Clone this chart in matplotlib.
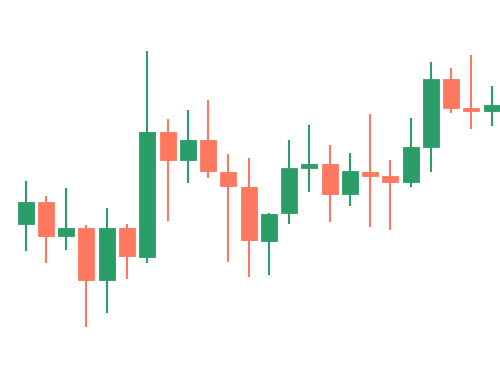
import numpy as np
import matplotlib.pyplot as plt

# OHLC values (arbitrary price units)
opens = [146, 168, 134.3, 142, 90, 142, 112.7, 238, 210, 230.3, 198.3, 183.3,
         129.3, 156.7, 202.3, 205.7, 175.7, 197.7, 193.7, 187.7, 223, 291.3, 262, 259]
highs = [188.7, 174.3, 182, 145, 162.3, 146, 318.7, 251.3, 259.7, 269.7, 215.7, 212,
         157.3, 230, 244.7, 225, 217, 255.7, 210, 252.3, 308, 302, 315.3, 284.3]
lows = [119, 106.7, 120, 42.7, 57.3, 90.7, 106.7, 149, 187, 192, 108, 93.3,
        94.7, 145.7, 178.3, 148.3, 163.7, 142.7, 139.7, 183, 198.3, 257, 240.7, 244]
closes = [168, 134.3, 141.7, 90, 142, 114, 238, 210, 230.3, 199, 184, 130,
          156.3, 201.7, 205.7, 175.7, 199.3, 194, 187.7, 222.7, 291.3, 262.3, 259, 264.7]

up_color = '#2a9d68'
down_color = '#fe7860'

opens = np.array(opens)
closes = np.array(closes)
x = np.arange(len(opens))
colors = [up_color if c >= o else down_color for o, c in zip(opens, closes)]

fig = plt.figure(figsize=(5, 3.7), dpi=100)
ax = fig.add_axes([0, 0, 1, 1])

# wicks
ax.vlines(x, lows, highs, colors=colors, linewidth=1.5, zorder=1)

# bodies
bottoms = np.minimum(opens, closes)
heights = np.maximum(np.abs(closes - opens), 2.5)
ax.bar(x, heights, bottom=bottoms, width=0.79, color=colors,
       edgecolor=colors, linewidth=0.6, zorder=2)

ax.set_xlim(-1.268, 23.41)
ax.set_ylim(0, 370)
ax.axis('off')

fig.savefig('out.png', dpi=100, facecolor='white')
